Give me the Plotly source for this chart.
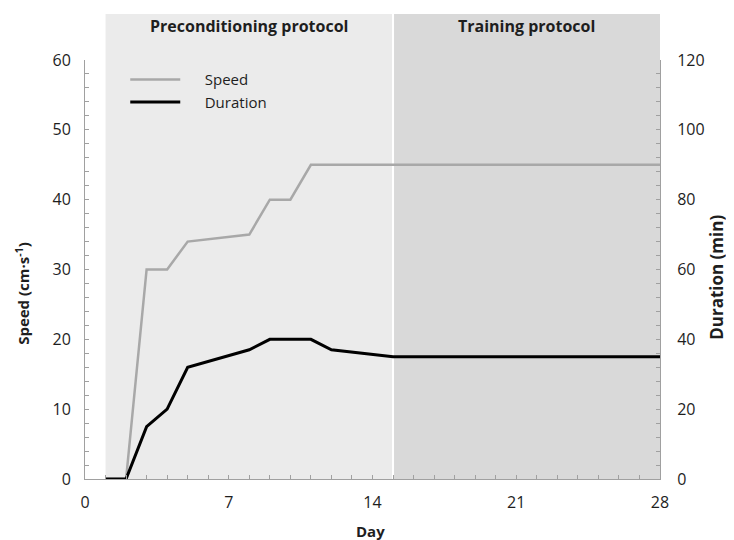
import plotly.graph_objects as go

days = [1, 2, 3, 4, 5, 8, 9, 10, 11, 15, 28]
speed = [0, 0, 30, 30, 34, 35, 40, 40, 45, 45, 45]

dur_days = [1, 2, 3, 4, 5, 8, 9, 10, 11, 12, 15, 28]
duration = [0, 0, 15, 20, 32, 37, 40, 40, 40, 37, 35, 35]

phases = ["Preconditioning protocol", "Training protocol"]
phase_start = [1, 15]
phase_end = [15, 28]
phase_colors = ["#ebebeb", "#d9d9d9"]

x_ticks = [0, 7, 14, 21, 28]

FONT = "'Open Sans', sans-serif"
TXT = "#1e1e1e"
PAD = "\u00a0" * 5  # gap between legend line and label

fig = go.Figure()
fig.add_trace(go.Scatter(x=days, y=speed, mode="lines", name=PAD + "Speed",
                         line=dict(color="#a8a8a8", width=2.5)))
fig.add_trace(go.Scatter(x=dur_days, y=duration, mode="lines", name=PAD + "Duration",
                         yaxis="y2", line=dict(color="#000000", width=3)))

TOP = 1.11
for name, s, e, c in zip(phases, phase_start, phase_end, phase_colors):
    fig.add_shape(type="rect", xref="x", yref="paper", x0=s, x1=e, y0=0, y1=TOP,
                  fillcolor=c, line=dict(width=0), layer="below")
    fig.add_annotation(x=(s + e) / 2, xref="x", y=1.081, yref="paper",
                       xanchor="center", yanchor="middle",
                       text="<b>" + name + "</b>", showarrow=False,
                       font=dict(size=16, color=TXT, family=FONT))
fig.add_shape(type="line", xref="x", yref="paper", x0=15, x1=15, y0=0, y1=TOP,
              line=dict(color="white", width=2), layer="below")

# axis titles
fig.add_annotation(x=-0.108, y=0.444, xref="paper", yref="paper", textangle=-90,
                   xanchor="center", yanchor="middle",
                   text="<b>Speed (cm·s<sup>-1</sup>)</b>", showarrow=False,
                   font=dict(size=15, color=TXT, family=FONT))
fig.add_annotation(x=1.097, y=0.482, xref="paper", yref="paper", textangle=-90,
                   xanchor="center", yanchor="middle",
                   text="<b>Duration (min)</b>", showarrow=False,
                   font=dict(size=17, color=TXT, family=FONT))
fig.add_annotation(x=0.497, y=-0.124, xref="paper", yref="paper",
                   xanchor="center", yanchor="middle",
                   text="<b>Day</b>", showarrow=False,
                   font=dict(size=15, color=TXT, family=FONT))

axis_common = dict(showgrid=False, zeroline=False, showline=True, automargin=False,
                   linecolor="#a0a0a0", linewidth=1, ticks="inside",
                   ticklen=4, tickcolor="#a0a0a0",
                   tickfont=dict(size=16, color=TXT, family=FONT))

fig.update_layout(
    width=726, height=532,
    margin=dict(l=77, r=74, t=52, b=61),
    paper_bgcolor="white", plot_bgcolor="white",
    font=dict(family=FONT, color=TXT),
    showlegend=True,
    legend=dict(x=0.07, y=0.992, xanchor="left", yanchor="top",
                bgcolor="rgba(0,0,0,0)", font=dict(size=15, color=TXT, family=FONT),
                itemwidth=50, tracegroupgap=0),
    xaxis=dict(range=[0, 28], tickvals=x_ticks,
               minor=dict(dtick=1, ticks="inside", ticklen=4, tickcolor="#a0a0a0"),
               ticklabelstandoff=9,
               **axis_common),
    yaxis=dict(range=[0, 60], dtick=10,
               minor=dict(dtick=2, ticks="inside", ticklen=4, tickcolor="#a0a0a0"),
               ticklabelstandoff=10,
               **axis_common),
    yaxis2=dict(range=[0, 120], dtick=20, overlaying="y", side="right",
                minor=dict(dtick=4, ticks="inside", ticklen=4, tickcolor="#a0a0a0"),
                ticklabelstandoff=13,
                **axis_common),
)

fig.write_html("out.html")
